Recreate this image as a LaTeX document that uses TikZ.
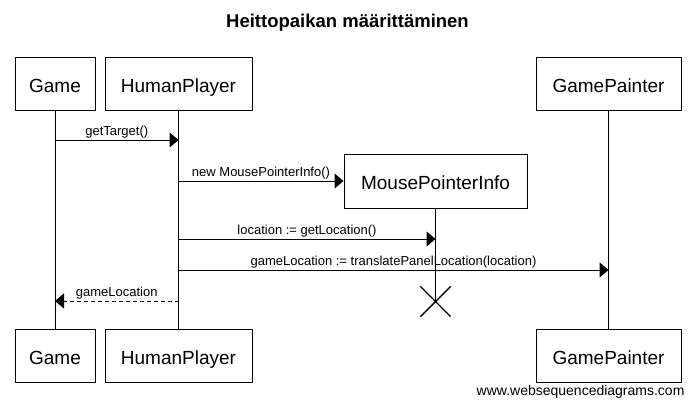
\documentclass[tikz,border=0pt]{standalone}
\usepackage{fontspec}
\setmainfont{Liberation Sans}
\usetikzlibrary{arrows.meta, positioning, calc, shapes.misc}
\tikzset{
    actor/.style={rectangle, draw, line width=1pt, minimum height=53pt, inner xsep=4pt, text height=17pt, text depth=0pt, font=\fontsize{19}{22}\selectfont},
    lifeline/.style={line width=1pt},
    msg/.style={-{Triangle[length=9pt, width=15pt]}, line width=1pt},
    reply/.style={msg, dash pattern=on 4pt off 3pt},
    msglabel/.style={above, inner sep=1.5pt, font=\fontsize{13}{15}\selectfont},
    destroy/.style={cross out, draw, line width=1.4pt, minimum size=29pt, inner sep=0pt},
}

\begin{document}
\begin{tikzpicture}[x=1pt, y=-1pt]
\useasboundingbox (0,0) rectangle (695,407);

% Title
\node[font=\bfseries\fontsize{18.5}{22}\selectfont] (title) at (347.5,23) {Heittopaikan määrittäminen};

% Participant boxes (top)
\node[actor, minimum width=80pt] (game) at (55,83.5) {Game};
\node[actor, minimum width=147pt] (hp) at (178.5,83.5) {HumanPlayer};
\node[actor, minimum width=145pt] (gp) at (608.5,83.5) {GamePainter};
\node[actor, minimum width=183pt, minimum height=54pt] (mpi) at (435.5,181) {MousePointerInfo};

% Participant boxes (bottom)
\node[actor, minimum width=80pt] (gameB) at (55,356) {Game};
\node[actor, minimum width=147pt] (hpB) at (178.5,356) {HumanPlayer};
\node[actor, minimum width=145pt] (gpB) at (608.5,356) {GamePainter};

% Destruction mark
\node[destroy] (kill) at (435.5,301.5) {};

% Lifelines
\draw[lifeline] (game) -- (gameB);
\draw[lifeline] (hp) -- (hpB);
\draw[lifeline] (gp) -- (gpB);
\draw[lifeline] (mpi) -- (kill.center);

% Message rows
\coordinate (m1) at (0,140);
\coordinate (m3) at (0,239);
\coordinate (m4) at (0,270);
\coordinate (m5) at (0,301);

% Messages
\draw[msg] (game |- m1) -- node[msglabel] {getTarget()} (hp |- m1);
\draw[msg] (hp |- mpi) -- node[msglabel] {new MousePointerInfo()} (mpi.west);
\draw[msg] (hp |- m3) -- node[msglabel] {location := getLocation()} (mpi |- m3);
\draw[msg] (hp |- m4) -- node[msglabel] {gameLocation := translatePanelLocation(location)} (gp |- m4);
\draw[reply] (hp |- m5) -- node[msglabel] {gameLocation} (game |- m5);

% Footer
\node[anchor=east, font=\fontsize{14}{16}\selectfont] (wsd) at (688,392) {www.websequencediagrams.com};

\end{tikzpicture}
\end{document}
